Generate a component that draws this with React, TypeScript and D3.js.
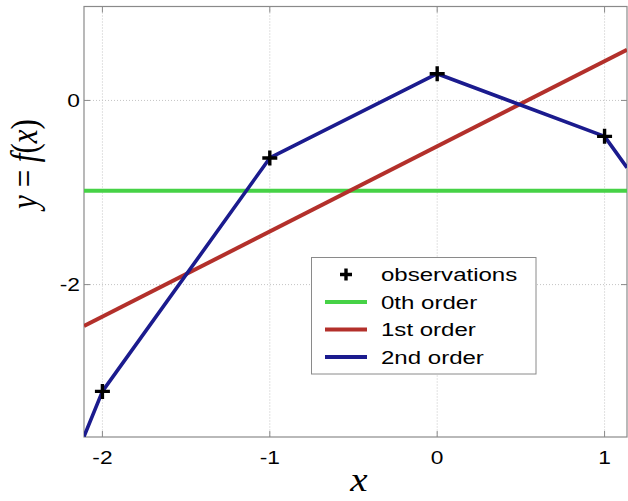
import React from "react";
import * as d3 from "d3";

const xTicks = [-2, -1, 0, 1];
const yTicks = [-2, 0];
const obsX = [-2, -1, 0, 1];
const obsY = [-3.16, -0.625, 0.29, -0.39];
const fit0X = [-2.11, 1.134];
const fit0Y = [-0.98, -0.98];
const fit1X = [-2.11, 1.134];
const fit1Y = [-2.45, 0.55];
const fit2X = [-2.11, -2, -1, 0, 1, 1.134];
const fit2Y = [-3.65, -3.16, -0.625, 0.29, -0.39, -0.73];
const legendLabels = ["observations", "0th order", "1st order", "2nd order"];

const W = 628, H = 501;
const L = 84, R = 627, T = 6.5, B = 437;
const SX = 1.3;

export default function App() {
  const x = d3.scaleLinear().domain([-2.11, 1.134]).range([L, R]);
  const y = d3.scaleLinear().domain([1.02, -3.655]).range([T, B]);
  const line = d3.line<[number, number]>().x(d => x(d[0])).y(d => y(d[1]));
  const zip = (a: number[], b: number[]) => a.map((v, i) => [v, b[i]] as [number, number]);
  const series = [
    { X: fit0X, Y: fit0Y, color: "#46d246", w: 4 },
    { X: fit1X, Y: fit1Y, color: "#b3302b", w: 4 },
    { X: fit2X, Y: fit2Y, color: "#1b1b8e", w: 3.6 },
  ];
  const legendColors = ["#000", "#46d246", "#b3302b", "#1b1b8e"];
  const font = "'Liberation Sans', Arial, sans-serif";
  const serif = "'Liberation Serif', 'DejaVu Serif', serif";
  const lx = 311.5, ly = 257.5, lw = 224.5, lh = 116.5;
  const fmt = (t: number) => (t < 0 ? "-" + Math.abs(t) : String(t));
  return (
    <div style={{ position: "absolute", left: 0, top: 0 }}>
      <svg width={W} height={H} style={{ display: "block" }}>
        <rect width={W} height={H} fill="#fff" />
        <defs>
          <clipPath id="plot">
            <rect x={L} y={T} width={R - L} height={B - T} />
          </clipPath>
        </defs>
        {xTicks.map(t => (
          <line key={"gx" + t} x1={x(t)} x2={x(t)} y1={T} y2={B} stroke="#c4c4c4" strokeDasharray="1,2" />
        ))}
        {yTicks.map(t => (
          <line key={"gy" + t} x1={L} x2={R} y1={y(t)} y2={y(t)} stroke="#c4c4c4" strokeDasharray="1,2" />
        ))}
        <rect x={L} y={T} width={R - L} height={B - T} fill="none" stroke="#8a8a8a" strokeWidth={1.2} />
        {xTicks.map(t => (
          <g key={"tx" + t}>
            <line x1={x(t)} x2={x(t)} y1={B} y2={B - 6} stroke="#8a8a8a" />
            <line x1={x(t)} x2={x(t)} y1={T} y2={T + 6} stroke="#8a8a8a" />
            <text transform={`translate(${x(t)},463.5) scale(${SX},1)`} textAnchor="middle" fontFamily={font} fontSize={17.5} fill="#000">
              {fmt(t)}
            </text>
          </g>
        ))}
        {yTicks.map(t => (
          <g key={"ty" + t}>
            <line x1={L} x2={L + 6} y1={y(t)} y2={y(t)} stroke="#8a8a8a" />
            <line x1={R} x2={R - 6} y1={y(t)} y2={y(t)} stroke="#8a8a8a" />
            <text transform={`translate(80,${y(t) + 6.5}) scale(${SX},1)`} textAnchor="end" fontFamily={font} fontSize={17.5} fill="#000">
              {fmt(t)}
            </text>
          </g>
        ))}
        <g clipPath="url(#plot)">
          {series.map((s, i) => (
            <path key={i} d={line(zip(s.X, s.Y)) || ""} fill="none" stroke={s.color} strokeWidth={s.w} strokeLinejoin="round" />
          ))}
          {obsX.map((v, i) => (
            <path key={"o" + i} d={`M${x(v) - 7.5},${y(obsY[i])}h15M${x(v)},${y(obsY[i]) - 7.5}v15`} stroke="#000" strokeWidth={3.4} />
          ))}
        </g>
        <rect x={lx} y={ly} width={lw} height={lh} fill="#fff" stroke="#8a8a8a" strokeWidth={1} />
        {legendLabels.map((lab, i) => {
          const cy = 274.5 + i * 27.5;
          return (
            <g key={lab}>
              {i === 0 ? (
                <path d={`M${346 - 6},${cy}h12M346,${cy - 6}v12`} stroke="#000" strokeWidth={3.4} />
              ) : (
                <line x1={325} x2={367} y1={cy} y2={cy} stroke={legendColors[i]} strokeWidth={4} />
              )}
              <text transform={`translate(381,${cy + 6.5}) scale(${SX},1)`} fontFamily={font} fontSize={18.5} fill="#000">{lab}</text>
            </g>
          );
        })}
        <text transform={`translate(359,491) scale(1.15,1)`} textAnchor="middle" fontFamily={serif} fontStyle="italic" fontSize={34}>x</text>
        <text transform="translate(37,164) rotate(-90) scale(1,1.25)" textAnchor="middle" fontFamily={serif} fontSize={31}>
          <tspan fontStyle="italic">y</tspan>
          <tspan> = </tspan>
          <tspan fontStyle="italic">f</tspan>
          <tspan>(</tspan>
          <tspan fontStyle="italic">x</tspan>
          <tspan>)</tspan>
        </text>
      </svg>
    </div>
  );
}
